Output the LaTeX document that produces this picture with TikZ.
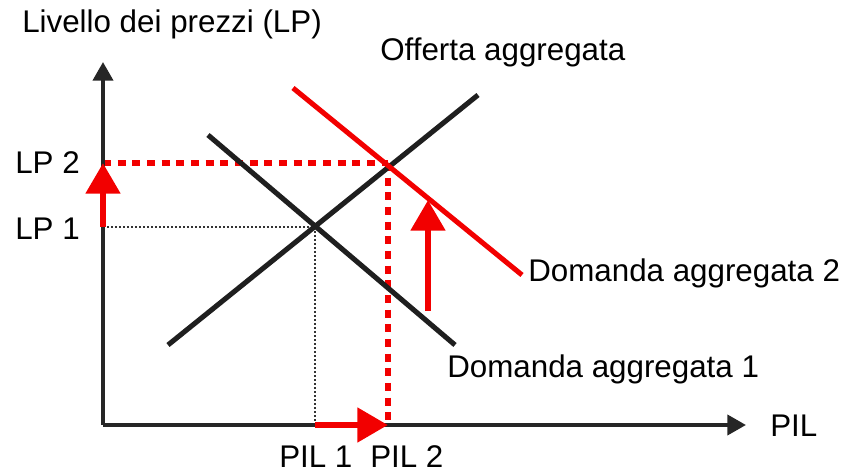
\documentclass[tikz,border=0pt]{standalone}
\usepackage{fontspec}
\setmainfont{Liberation Sans}
\usetikzlibrary{arrows.meta}
\begin{document}
\begin{tikzpicture}[x=0.75pt,y=-0.75pt,
  lbl/.style={inner sep=0pt,font=\fontsize{23.5}{28}\selectfont},
  axis/.style={line width=3pt,black!85,-{Triangle[width=15pt,length=14pt]}},
  curve/.style={line width=3.8pt,black!88},
  redcurve/.style={line width=3.8pt,red!95!black},
  reddash/.style={line width=5.2pt,red!95!black,dash pattern=on 6pt off 5pt},
  blackdot/.style={line width=1.6pt,black!80,dash pattern=on 1.5pt off 1.5pt},
  redarrow/.style={line width=5.2pt,red!95!black,-{Triangle[width=25pt,length=23pt]}}]
\useasboundingbox (0,0) rectangle (852,473);
% coordinates
\coordinate (O) at (103,425);
\coordinate (Ytop) at (103,62);
\coordinate (Xend) at (746,425);
\coordinate (S1) at (168,345);
\coordinate (S2) at (478,95);
\coordinate (D1a) at (208,135);
\coordinate (D1b) at (455,345);
\coordinate (D2a) at (293,88);
\coordinate (D2b) at (522,275);
\coordinate (E1) at (315,227);
\coordinate (E2) at (388,163);
\coordinate (Y1) at (103,227);
\coordinate (Y2) at (103,163);
\coordinate (X1) at (315,425);
\coordinate (X2) at (388,425);
\coordinate (M1) at (428,311);
\coordinate (M2) at (428,200);
% dotted / dashed guides
\draw[blackdot] (Y1) -- (E1) -- (X1);
\draw[reddash] (Y2) -- (E2);
\draw[reddash] (E2) -- (X2);
% axes
\draw[axis] (O) -- (Ytop);
\draw[axis] (O) -- (Xend);
% curves
\draw[curve] (S1) -- (S2);
\draw[curve] (D1a) -- (D1b);
\draw[redcurve] (D2a) -- (D2b);
% red arrows
\draw[redarrow] (Y1) -- (Y2);
\draw[redarrow] (X1) -- (X2);
\draw[redarrow] (M1) -- (M2);
% labels
\node[lbl,anchor=west] (ty) at (22,24) {Livello dei prezzi (LP)};
\node[lbl,anchor=west] (to) at (380,52) {Offerta aggregata};
\node[lbl,anchor=west] (lp2) at (15,163) {LP 2};
\node[lbl,anchor=west] (lp1) at (15,229) {LP 1};
\node[lbl,anchor=west] (d2) at (528,273) {Domanda aggregata 2};
\node[lbl,anchor=west] (d1) at (447,369) {Domanda aggregata 1};
\node[lbl,anchor=west] (pil) at (770,426) {PIL};
\node[lbl,anchor=west] (pil1) at (279,457) {PIL 1};
\node[lbl,anchor=west] (pil2) at (370,457) {PIL 2};
\end{tikzpicture}
\end{document}
